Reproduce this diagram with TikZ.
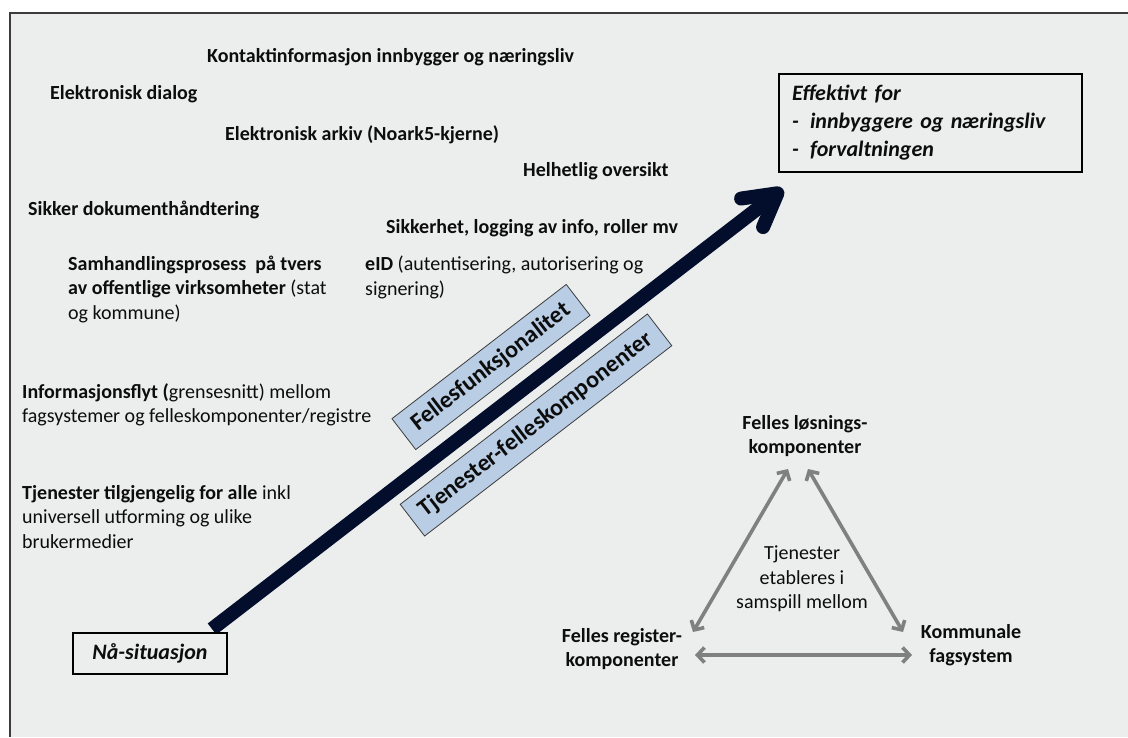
\documentclass[tikz,border=0pt]{standalone}
\usepackage{fontspec}
\setmainfont{Carlito}
\usetikzlibrary{arrows.meta}
\definecolor{canvas}{RGB}{236,237,237}
\definecolor{navy}{RGB}{2,14,44}
\definecolor{paleblue}{RGB}{185,205,229}
\definecolor{linkgray}{RGB}{128,128,128}
\definecolor{ink}{RGB}{13,13,13}
\definecolor{framegray}{RGB}{60,60,60}

\begin{document}
\begin{tikzpicture}[x=1pt,y=1pt,
  item/.style={anchor=base west, inner sep=0pt, align=left, text=ink,
    font=\fontsize{20}{24.5}\selectfont},
  hitem/.style={item, font=\fontsize{20}{24.5}\selectfont\bfseries},
  stagebox/.style={draw=black, line width=1.4pt, fill=canvas, text=ink,
    font=\fontsize{22}{28}\selectfont\bfseries\itshape},
  bandbox/.style={draw=framegray, line width=0.8pt, fill=paleblue, text=ink,
    inner sep=0pt, rotate=37.6, font=\fontsize{24}{28}\selectfont\bfseries},
  partlabel/.style={align=center, inner sep=0pt, text=ink,
    font=\fontsize{20}{24}\selectfont\bfseries},
  link/.style={draw=linkgray, line width=3.6pt,
    {Straight Barb[length=7pt,width=15pt]}-{Straight Barb[length=7pt,width=15pt]}},
  mainarrow/.style={draw=navy, line width=14pt,
    -{Straight Barb[length=32pt,width=36pt,round]}}
]
\useasboundingbox (0,0) rectangle (1128,-737);

% canvas and frame
\fill[white] (0,0) rectangle (1128,-737);
\fill[canvas] (10,-13) rectangle (1128,-737);
\draw[framegray, line width=1.2pt] (10,-737) -- (10,-13) -- (1128,-13);

% list of concerns (multi-line items are placed by their last baseline)
\node[hitem] (kontakt) at (207,-62) {Kontaktinformasjon innbygger og næringsliv};
\node[hitem] (dialog) at (50,-99) {Elektronisk dialog};
\node[hitem] (arkiv) at (225,-140) {Elektronisk arkiv (Noark5-kjerne)};
\node[hitem] (oversikt) at (523,-176) {Helhetlig oversikt};
\node[hitem] (dokument) at (28,-215) {Sikker dokumenthåndtering};
\node[hitem] (sikkerhet) at (386,-233) {Sikkerhet, logging av info, roller mv};
\node[item] (samhandling) at (68,-319)
  {\textbf{Samhandlingsprosess\ \ på tvers}\\
   \textbf{av offentlige virksomheter} (stat\\
   og kommune)};
\node[item] (eid) at (365,-295)
  {\textbf{eID} (autentisering, autorisering og\\signering)};
\node[item] (infoflyt) at (22,-422.5)
  {\textbf{Informasjonsflyt (}grensesnitt) mellom\\
   fagsystemer og felleskomponenter/registre};
\node[item] (tilgjengelig) at (22,-548)
  {\textbf{Tjenester tilgjengelig for alle} inkl\\
   universell utforming og ulike\\
   brukermedier};

% main development arrow
\coordinate (startpt) at (212,-629);
\coordinate (goal) at (783,-189);
\draw[mainarrow] (startpt) -- (goal);

% start and goal boxes
\node[stagebox, minimum width=154pt, minimum height=41pt, inner sep=0pt]
  (now) at (150,-653.5) {Nå-situasjon};
\node[stagebox, minimum width=303pt, minimum height=98pt, inner xsep=13pt,
  text width=277pt, align=left] (result) at (930.5,-123)
  {Effektivt for\\
   \makebox[18pt][l]{-}innbyggere og næringsliv\\
   \makebox[18pt][l]{-}forvaltningen};

% bands along the arrow
\node[bandbox, minimum width=220pt, minimum height=39pt] (felles) at (491,-367)
  {Fellesfunksjonalitet};
\node[bandbox, minimum width=312pt, minimum height=40pt] (tjfelles) at (536,-425)
  {Tjenester-felleskomponenter};

% interplay triangle
\node[partlabel] (losning) at (805,-436) {Felles løsnings-\\komponenter};
\node[partlabel] (register) at (622,-649) {Felles register-\\komponenter};
\node[partlabel] (kommunal) at (971,-645) {Kommunale\\fagsystem};
\node[partlabel, font=\fontsize{20}{24.5}\selectfont] (samspill) at (802,-579)
  {Tjenester\\etableres i\\samspill mellom};

\coordinate (topL) at (788,-469);
\coordinate (topR) at (808,-469);
\coordinate (regT) at (693,-632);
\coordinate (komT) at (903,-632);
\coordinate (regR) at (695,-655);
\coordinate (komL) at (912,-655);
\draw[link] (topL) -- (regT);
\draw[link] (topR) -- (komT);
\draw[link] (regR) -- (komL);
\end{tikzpicture}
\end{document}
